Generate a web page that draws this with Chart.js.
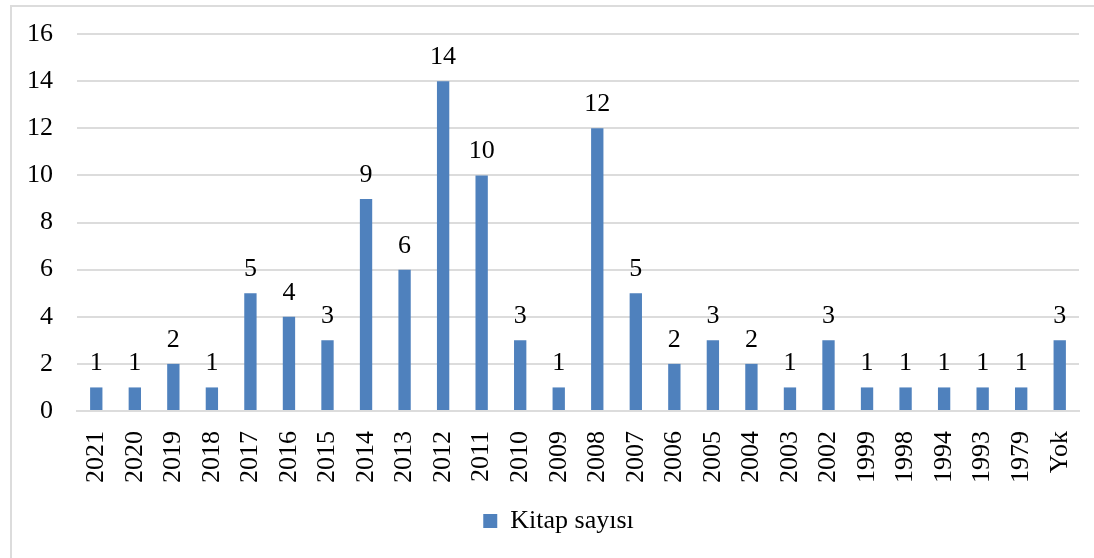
<!DOCTYPE html>
<html>
<head>
<meta charset="utf-8">
<script src="https://cdn.jsdelivr.net/npm/chart.js@4"></script>
<style>
  html, body { margin: 0; padding: 0; background: #fff; }
  #frame { position: absolute; left: 10px; top: 5px; width: 1100px; height: 600px; border: 2px solid #dcdcdc; box-sizing: border-box; pointer-events: none; }
  #wrap { position: absolute; left: 0; top: 0; width: 1094px; height: 558px; }
</style>
</head>
<body>
<div id="wrap"><canvas id="chart"></canvas></div>
<div id="frame"></div>
<script>
const years = ['2021', '2020', '2019', '2018', '2017', '2016', '2015', '2014', '2013', '2012', '2011', '2010', '2009', '2008',
    '2007', '2006', '2005', '2004', '2003', '2002', '1999', '1998', '1994', '1993', '1979', 'Yok'];
const bookCounts = [1, 1, 2, 1, 5, 4, 3, 9, 6, 14, 10, 3, 1, 12, 5, 2, 3, 2, 1, 3, 1, 1, 1, 1, 1, 3];
const seriesName = 'Kitap sayısı';
const yTicks = [0, 2, 4, 6, 8, 10, 12, 14, 16];

const serif = '"Liberation Serif", "Times New Roman", serif';
const barColor = '#4f81bd';
const gridColor = '#dcdcdc';

// draw the value above each bar
const valueLabels = {
    id: 'valueLabels',
    afterDatasetsDraw(chart) {
        const ctx = chart.ctx;
        ctx.save();
        ctx.font = '26px ' + serif;
        ctx.fillStyle = '#000';
        ctx.textAlign = 'center';
        ctx.textBaseline = 'alphabetic';
        chart.getDatasetMeta(0).data.forEach((bar, i) => {
            ctx.fillText(String(bookCounts[i]), bar.x, bar.y - 17);
        });
        ctx.restore();
    }
};

// legend sits a bit right of the page centre, under the plot
const legendNudge = {
    id: 'legendNudge',
    afterLayout(chart) {
        chart.legend.left += 14;
        chart.legend.right += 14;
    }
};

// no extra room for label overhang, the layout padding handles it
function noOverhang(scale) {
    scale.paddingLeft = 0;
    scale.paddingRight = 0;
    scale.paddingTop = 0;
    scale.paddingBottom = 0;
}

new Chart(document.getElementById('chart').getContext('2d'), {
    type: 'bar',
    data: {
        labels: years,
        datasets: [{
            label: seriesName,
            data: bookCounts,
            backgroundColor: barColor,
            borderWidth: 0,
            categoryPercentage: 1,
            barPercentage: 0.32
        }]
    },
    options: {
        responsive: true,
        maintainAspectRatio: false,
        animation: false,
        devicePixelRatio: 1,
        layout: { padding: { left: 10, right: 15, top: 34, bottom: 14 } },
        plugins: {
            legend: {
                position: 'bottom',
                labels: {
                    font: { family: serif, size: 26 },
                    color: '#000',
                    boxWidth: 14,
                    boxHeight: 14,
                    padding: 6
                }
            },
            tooltip: { enabled: false }
        },
        scales: {
            x: {
                grid: { display: false },
                border: { color: gridColor, width: 2 },
                ticks: {
                    font: { family: serif, size: 26 },
                    color: '#000',
                    minRotation: 90,
                    maxRotation: 90,
                    autoSkip: false,
                    padding: 12
                },
                afterFit(scale) { scale.height = 91; noOverhang(scale); }
            },
            y: {
                min: 0,
                max: 16,
                afterBuildTicks(scale) { scale.ticks = yTicks.map(v => ({ value: v })); },
                grid: { color: gridColor, lineWidth: 2, drawTicks: false },
                border: { display: false },
                ticks: {
                    font: { family: serif, size: 26 },
                    color: '#000',
                    padding: 24
                },
                afterFit(scale) { scale.width = 67; noOverhang(scale); }
            }
        }
    },
    plugins: [valueLabels, legendNudge]
});
</script>
</body>
</html>
